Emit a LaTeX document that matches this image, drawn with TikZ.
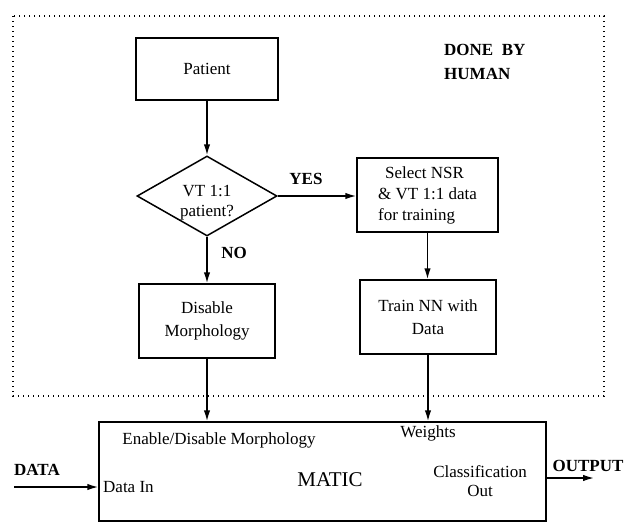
\documentclass[tikz,border=0pt]{standalone}
\usepackage{fontspec}
\setmainfont{Liberation Serif}
\usetikzlibrary{shapes.geometric,arrows.meta}
\begin{document}
\begin{tikzpicture}[x=1pt,y=-1pt,
  box/.style={draw,line width=1.5pt,align=center,font=\fontsize{17}{23}\selectfont,inner sep=0pt},
  lbl/.style={font=\fontsize{17}{24}\selectfont\bfseries,inner sep=0pt},
  txt/.style={font=\fontsize{17}{17}\selectfont,inner sep=0pt},
  arr/.style={line width=1.5pt,-{Latex[length=11pt,width=6.5pt]}},
]
\useasboundingbox (0,0) rectangle (634,525);
\draw[line width=1.4pt, dash pattern=on 1.4pt off 3.6pt] (13,16) rectangle (604,396);

\node[box,minimum width=142pt,minimum height=62pt] (pat) at (207,69) {Patient};
\node[draw,diamond,line width=1.5pt,minimum width=140pt,minimum height=80pt,aspect=1.75,inner sep=0pt] (dec) at (207,196) {};
\node[txt,align=center,font=\fontsize{17}{20}\selectfont] (dect) at (207,203) {VT 1:1\\patient?};
\node[box,minimum width=141pt,minimum height=74pt,align=left,font=\fontsize{17}{21}\selectfont] (sel) at (427.5,195) {\hspace*{7pt}Select NSR\\\& VT 1:1 data\\for training};
\node[box,minimum width=136pt,minimum height=74pt] (dis) at (207,321) {Disable\\Morphology};
\node[box,minimum width=136pt,minimum height=74pt] (trn) at (428,317) {Train NN with\\Data};
\node[draw,line width=1.5pt,minimum width=447pt,minimum height=99pt,inner sep=0pt] (mat) at (322.5,471.5) {};

\draw[arr] (pat) -- (dec);
\draw[arr] (dec) -- (dis);
\draw[arr] (dec.east) -- (sel.west |- dec.east);
\draw[arr] (sel.south) -- (sel.south |- trn.north);
\draw[arr] (dis.south) -- (dis.south |- mat.north);
\draw[arr] (trn.south) -- (trn.south |- mat.north);
\coordinate (din) at (14,487);
\draw[arr] (din) -- (din -| mat.west);
\coordinate (dout) at (594,478);
\draw[arr] (mat.east |- dout) -- (dout);

\node[lbl] (yes) at (306,179) {YES};
\node[lbl] (no) at (234,253) {NO};
\node[lbl,align=left,anchor=west] (done) at (444,62) {DONE\ \ BY\\HUMAN};
\node[lbl] (data) at (37,470) {DATA};
\node[lbl] (out) at (588,466) {OUTPUT};
\node[txt] (edm) at (219,440) {Enable/Disable Morphology};
\node[txt] (wts) at (428,433) {Weights};
\node[txt,anchor=west] (dinl) at (103,487) {Data In};
\node[txt,font=\fontsize{21}{25}\selectfont] (matic) at (330,480) {MATIC};
\node[txt,align=center,font=\fontsize{17}{19}\selectfont] (cls) at (480,481) {Classification\\Out};
\end{tikzpicture}
\end{document}
